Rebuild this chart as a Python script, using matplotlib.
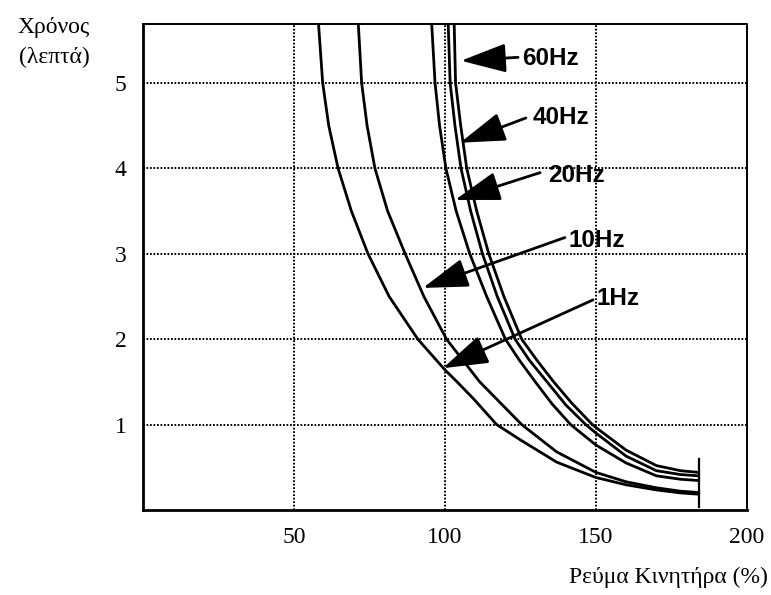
import matplotlib
matplotlib.use("Agg")
import matplotlib.pyplot as plt

# ---------------- data ----------------
freq_labels = ["1Hz", "10Hz", "20Hz", "40Hz", "60Hz"]

x_1hz = [58.0, 59.5, 61.5, 64.6, 69.0, 74.5, 81.5, 91.0, 100.0, 104.0, 109.5, 117.1, 125.0, 137.0, 150.0, 160.0, 170.0, 178.0, 184.0]
y_1hz = [5.75, 5.0, 4.5, 4.0, 3.5, 3.0, 2.5, 2.0, 1.64, 1.5, 1.3, 1.0, 0.82, 0.56, 0.38, 0.295, 0.235, 0.20, 0.185]

x_10hz = [71.2, 72.4, 74.2, 76.8, 81.0, 86.8, 93.0, 100.5, 111.5, 125.4, 137.0, 150.0, 160.0, 170.0, 178.0, 184.0]
y_10hz = [5.75, 5.0, 4.5, 4.0, 3.5, 3.0, 2.5, 2.0, 1.5, 1.0, 0.68, 0.44, 0.33, 0.26, 0.22, 0.205]

x_20hz = [95.5, 96.7, 98.2, 100.3, 103.7, 108.2, 113.8, 120.0, 124.7, 129.9, 135.5, 141.6, 150.0, 160.0, 170.0, 178.0, 184.0]
y_20hz = [5.75, 5.0, 4.5, 4.0, 3.5, 3.0, 2.5, 2.0, 1.75, 1.5, 1.24, 1.0, 0.76, 0.55, 0.40, 0.36, 0.345]

x_40hz = [101.0, 101.7, 103.3, 105.3, 108.5, 112.4, 117.3, 123.2, 128.0, 133.8, 140.0, 146.6, 150.0, 160.0, 170.0, 178.0, 184.0]
y_40hz = [5.75, 5.0, 4.5, 4.0, 3.5, 3.0, 2.5, 2.0, 1.75, 1.5, 1.23, 1.0, 0.90, 0.63, 0.46, 0.415, 0.40]

x_60hz = [103.0, 103.5, 105.2, 107.2, 110.5, 114.5, 119.5, 125.4, 130.5, 136.0, 142.0, 148.8, 150.0, 160.0, 170.0, 178.0, 184.0]
y_60hz = [5.75, 5.0, 4.5, 4.0, 3.5, 3.0, 2.5, 2.0, 1.75, 1.5, 1.25, 1.0, 0.965, 0.70, 0.52, 0.46, 0.44]

cutoff_x = 184.0
cutoff_y = [0.03, 0.60]

x_ticks = [50, 100, 150, 200]
y_ticks = [1, 2, 3, 4, 5]

# ---------------- layout (label / arrow positions in data coords) ----------------
label_pos = [(150.0, 2.48), (141.0, 3.15), (134.0, 3.92), (129.0, 4.59), (125.6, 5.29)]
arrow_start = [(149.0, 2.46), (139.7, 3.19), (131.5, 3.95), (126.8, 4.59), (124.2, 5.30)]
arrow_tip = [(99.3, 1.66), (92.7, 2.60), (103.3, 3.63), (105.0, 4.30), (105.3, 5.26)]

serif = ["Liberation Serif", "DejaVu Serif"]
sans = ["Liberation Sans", "DejaVu Sans"]

fig = plt.figure(figsize=(7.71, 5.95), dpi=100)
ax = fig.add_axes([143 / 771, 85 / 595, 604 / 771, 486 / 595])

ax.set_xlim(0, 200)
ax.set_ylim(0, 5.69)

# grid
dots = (0, (0.9, 0.9))
for xv in x_ticks[:-1]:
    ax.axvline(xv, color="black", lw=1.4, ls=dots, zorder=1)
for yv in y_ticks:
    ax.axhline(yv, color="black", lw=1.4, ls=dots, zorder=1)

# curves
for xs, ys in [(x_1hz, y_1hz), (x_10hz, y_10hz), (x_20hz, y_20hz), (x_40hz, y_40hz), (x_60hz, y_60hz)]:
    ax.plot(xs, ys, color="black", lw=2.0, zorder=3, solid_joinstyle="round")

ax.plot([cutoff_x, cutoff_x], cutoff_y, color="black", lw=1.6, zorder=3)

# annotations
for lab, lp, st, tp in zip(freq_labels, label_pos, arrow_start, arrow_tip):
    ax.annotate("", xy=tp, xytext=st,
                arrowprops=dict(arrowstyle="-|>,head_length=1.4,head_width=0.45",
                                color="black", lw=2.0, shrinkA=0, shrinkB=0,
                                mutation_scale=20),
                zorder=4)
    ax.text(lp[0], lp[1], lab, ha="left", va="center", fontsize=17.5,
            fontweight="bold", family=sans, zorder=5)

# spines
for s in ["left", "bottom"]:
    ax.spines[s].set_linewidth(2.0)
for s in ["top", "right"]:
    ax.spines[s].set_linewidth(1.4)
    ax.spines[s].set_linestyle(dots)

ax.set_xticks(x_ticks)
ax.set_yticks(y_ticks)
ax.set_xticklabels([str(v) for v in x_ticks], family=serif, fontsize=17)
ax.set_yticklabels([str(v) for v in y_ticks], family=serif, fontsize=17)
ax.tick_params(axis="x", length=0, pad=12)
ax.tick_params(axis="y", length=0, pad=12)

fig.text(54 / 771, 1 - 28 / 595, "Χρόνος", ha="center", va="center", fontsize=17, family=serif)
fig.text(54 / 771, 1 - 57 / 595, "(λεπτά)", ha="center", va="center", fontsize=17, family=serif)
fig.text(768 / 771, 1 - 577 / 595, "Ρεύμα Κινητήρα (%)", ha="right", va="center", fontsize=17, family=serif)

fig.savefig("out.png", dpi=100)
